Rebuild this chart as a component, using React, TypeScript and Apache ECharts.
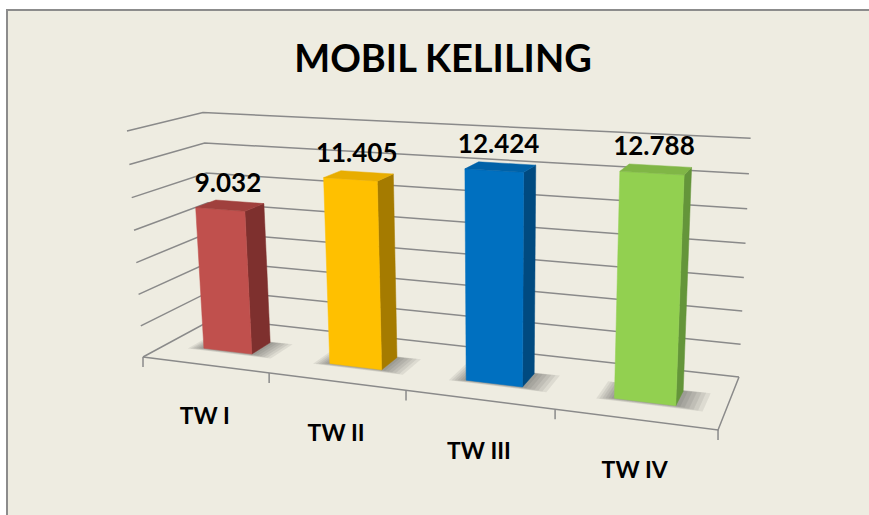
import React, { useEffect, useRef } from 'react';
import * as echarts from 'echarts';

// ---- data ----
const categories = ['TW I', 'TW II', 'TW III', 'TW IV'];
const values = [9032, 11405, 12424, 12788];
const yTicks = [0, 2000, 4000, 6000, 8000, 10000, 12000, 14000];
const chartTitle = 'MOBIL KELILING';

// ---- styles ----
const frontColors = ['#C0504D', '#FFC000', '#0070C0', '#92D050'];
const sideColors = ['#7E302E', '#A57B00', '#004A80', '#64953A'];
const topColors = ['#A0403D', '#E8AD00', '#0062A8', '#80B646'];
const BG = '#EEECE1';
const GRID_COLOR = '#8A8A8A';
const FONT = 'Lato, "Open Sans", sans-serif';

// 3D scene projection (world X: 0..1 left->right, Y: 0..1 bottom->top, Z: 0..1 front->back)
const PJ = {
  ox: 143, oy: 357,
  aX: 462.3, aY: -21.5, aZ: 93.5,
  bX: 5.5, bY: -231.7, bZ: -6.0,
  cX: -0.157, cY: -0.0433, cZ: 0.1026,
};
function proj(X: number, Y: number, Z: number): number[] {
  const w = 1 + PJ.cX * X + PJ.cY * Y + PJ.cZ * Z;
  return [(PJ.ox + PJ.aX * X + PJ.aY * Y + PJ.aZ * Z) / w, (PJ.oy + PJ.bX * X + PJ.bY * Y + PJ.bZ * Z) / w];
}
const BAR_FRAC = 0.39;
const Z0 = 0.32;
const Z1 = 0.6;

function fmt(v: number): string {
  return String(Math.round(v)).replace(/\B(?=(\d{3})+(?!\d))/g, '.');
}

export default function App() {
  const ref = useRef<HTMLDivElement>(null);
  useEffect(() => {
    const chart = echarts.init(ref.current as HTMLDivElement, null, { renderer: 'svg' });

    const gridSeries = {
      type: 'custom',
      coordinateSystem: 'cartesian2d',
      z: 1,
      silent: true,
      data: yTicks.map((t) => [0, t]),
      renderItem: (params: any, api: any) => {
        const cs = params.coordSys;
        const t = api.value(1);
        const p = api.coord([0, t]);
        const Y = (cs.y + cs.height - p[1]) / cs.height;
        const ls = { stroke: GRID_COLOR, lineWidth: 1.5, fill: null };
        const children: any[] = [
          { type: 'polyline', shape: { points: [proj(0, Y, 0), proj(0, Y, 1), proj(1, Y, 1)] }, style: ls },
        ];
        if (t === 0) {
          children.push({
            type: 'polyline',
            shape: { points: [proj(0, 0, 0), proj(1, 0, 0), proj(1, 0, 1)] },
            style: ls,
          });
          const bw = api.size([1, 0])[0];
          for (let i = 0; i <= categories.length; i++) {
            const c = api.coord([Math.min(i, categories.length - 1), 0]);
            const xb = i < categories.length ? c[0] - bw / 2 : c[0] + bw / 2;
            const X = (xb - cs.x) / cs.width;
            const a = proj(X, 0, 0);
            children.push({
              type: 'line',
              shape: { x1: a[0], y1: a[1], x2: a[0], y2: a[1] + 10 },
              style: { stroke: GRID_COLOR, lineWidth: 1.5 },
            });
          }
        }
        return { type: 'group', children };
      },
    };

    const barSeries = {
      type: 'custom',
      coordinateSystem: 'cartesian2d',
      z: 3,
      data: categories.map((c, i) => [i, values[i]]),
      renderItem: (params: any, api: any) => {
        const cs = params.coordSys;
        const i = params.dataIndex;
        const v = api.value(1);
        const top = api.coord([api.value(0), v]);
        const bw = api.size([1, 0])[0];
        const Xc = (top[0] - cs.x) / cs.width;
        const half = (bw / cs.width) * BAR_FRAC / 2;
        const Yt = (cs.y + cs.height - top[1]) / cs.height;
        const x0 = Xc - half;
        const x1 = Xc + half;
        const front = [proj(x0, 0, Z0), proj(x1, 0, Z0), proj(x1, Yt, Z0), proj(x0, Yt, Z0)];
        const side = [proj(x1, 0, Z0), proj(x1, 0, Z1), proj(x1, Yt, Z1), proj(x1, Yt, Z0)];
        const topF = [proj(x0, Yt, Z0), proj(x1, Yt, Z0), proj(x1, Yt, Z1), proj(x0, Yt, Z1)];
        const shadows: any[] = [];
        for (let k = 1; k <= 6; k++) {
          const ex = 0.0045 * k;
          const ez = 0.012 * k;
          shadows.push({
            type: 'polygon',
            shape: {
              points: [
                proj(x0 - ex, 0, Z0 - ez * 0.6),
                proj(x1 + ex * 1.6, 0, Z0 - ez * 0.6),
                proj(x1 + ex * 1.6, 0, Z1 + ez * 0.3),
                proj(x0 - ex, 0, Z1 + ez * 0.3),
              ],
            },
            style: { fill: 'rgba(60,60,60,0.09)' },
          });
        }
        const lc = proj(Xc, Yt, (Z0 + Z1) / 2);
        const cl = proj(Xc, 0, 0);
        return {
          type: 'group',
          children: [
            ...shadows,
            { type: 'polygon', shape: { points: side }, style: { fill: sideColors[i], stroke: sideColors[i], lineWidth: 0.5 } },
            { type: 'polygon', shape: { points: front }, style: { fill: frontColors[i], stroke: frontColors[i], lineWidth: 0.5 } },
            { type: 'polygon', shape: { points: topF }, style: { fill: topColors[i], stroke: topColors[i], lineWidth: 0.5 } },
            {
              type: 'text',
              style: {
                text: fmt(v), x: lc[0] - 2, y: lc[1] - 24, align: 'center', verticalAlign: 'middle',
                fill: '#000', fontFamily: FONT, fontWeight: 'bold', fontSize: 26,
              },
            },
            {
              type: 'text',
              style: {
                text: categories[i], x: cl[0], y: cl[1] + 50, align: 'center', verticalAlign: 'middle',
                fill: '#000', fontFamily: FONT, fontWeight: 'bold', fontSize: 23,
              },
            },
          ],
        };
      },
    };

    chart.setOption({
      animation: false,
      backgroundColor: '#ffffff',
      grid: { left: 0, right: 0, top: 0, bottom: 0 },
      xAxis: { type: 'category', data: categories, show: false },
      yAxis: { type: 'value', min: 0, max: 14000, interval: 2000, show: false },
      graphic: [
        {
          type: 'rect', z: -10, silent: true,
          shape: { x: 7, y: 10, width: 900, height: 600 },
          style: { fill: BG, stroke: '#8C8C8C', lineWidth: 2 },
        },
        {
          type: 'text', z: 10, silent: true,
          style: {
            text: chartTitle, x: 443, y: 57, align: 'center', verticalAlign: 'middle',
            fill: '#000', fontFamily: FONT, fontWeight: 'bold', fontSize: 38,
          },
        },
      ],
      series: [gridSeries, barSeries],
    });
    return () => chart.dispose();
  }, []);
  return <div ref={ref} style={{ position: 'fixed', left: 0, top: 0, width: 869, height: 515 }} />;
}
